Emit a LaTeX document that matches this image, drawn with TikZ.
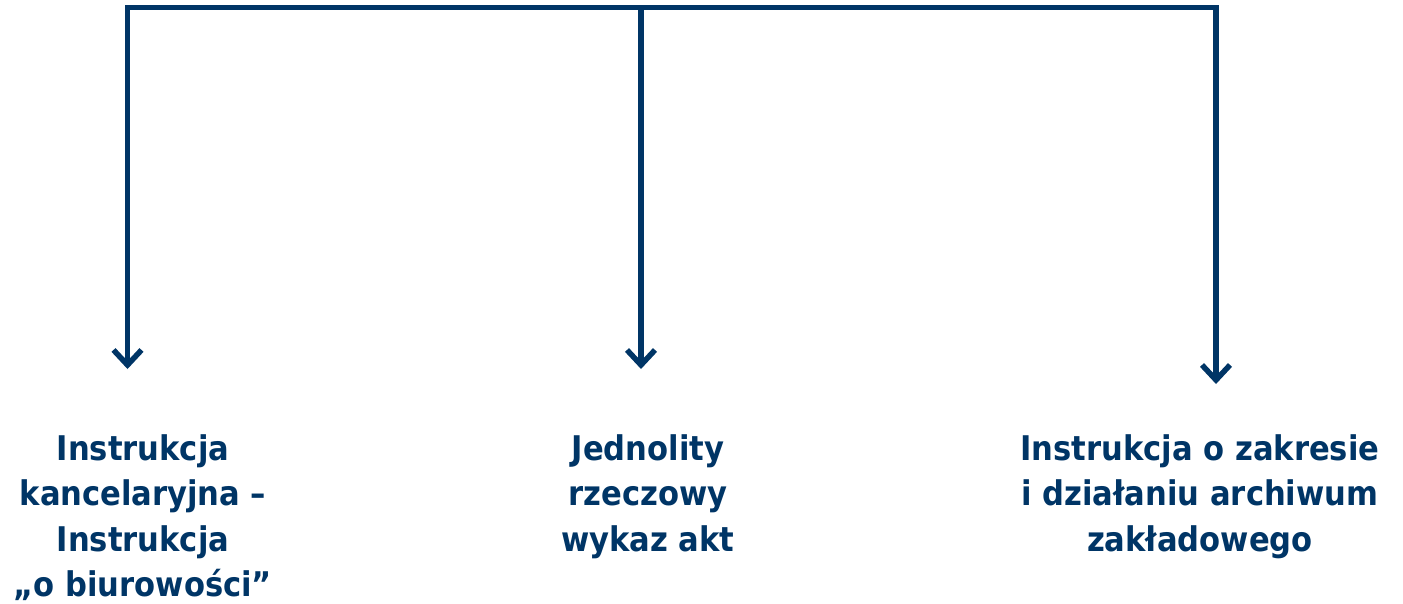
\documentclass[tikz,border=0pt]{standalone}
\usepackage{fontspec}
\setmainfont{DejaVu Sans Condensed}[BoldFont={DejaVu Sans Condensed Bold}]
\usetikzlibrary{arrows.meta}
\definecolor{navy}{RGB}{0,53,102}
\tikzset{
  conn/.style={draw=navy, line width=5.5pt},
  arr/.style={conn, -{Straight Barb[length=15pt,width=28pt,line width=5.5pt]}},
  lbl/.style={text=navy, font=\fontsize{34}{45.5}\selectfont\bfseries, align=center, anchor=north, inner sep=0pt}
}
\begin{document}
\begin{tikzpicture}[x=1pt,y=-1pt]
\useasboundingbox (0,0) rectangle (1403,603);
\coordinate (tl) at (127.5,7.5);
\coordinate (tm) at (641,7.5);
\coordinate (tr) at (1216,7.5);
\coordinate (el) at (127.5,369);
\coordinate (em) at (641,369);
\coordinate (er) at (1216,384);
\draw[conn, line cap=rect] (tl) -- (tr);
\draw[arr] (tl) -- (el);
\draw[arr] (tm) -- (em);
\draw[arr] (tr) -- (er);
\node[lbl] (a) at (143,434) {Instrukcja\\kancelaryjna –\\Instrukcja\\„o biurowości”};
\node[lbl] (b) at (648,434) {Jednolity\\rzeczowy\\wykaz akt};
\node[lbl] (c) at (1200,434) {Instrukcja o zakresie\\i działaniu archiwum\\zakładowego};
\end{tikzpicture}
\end{document}
